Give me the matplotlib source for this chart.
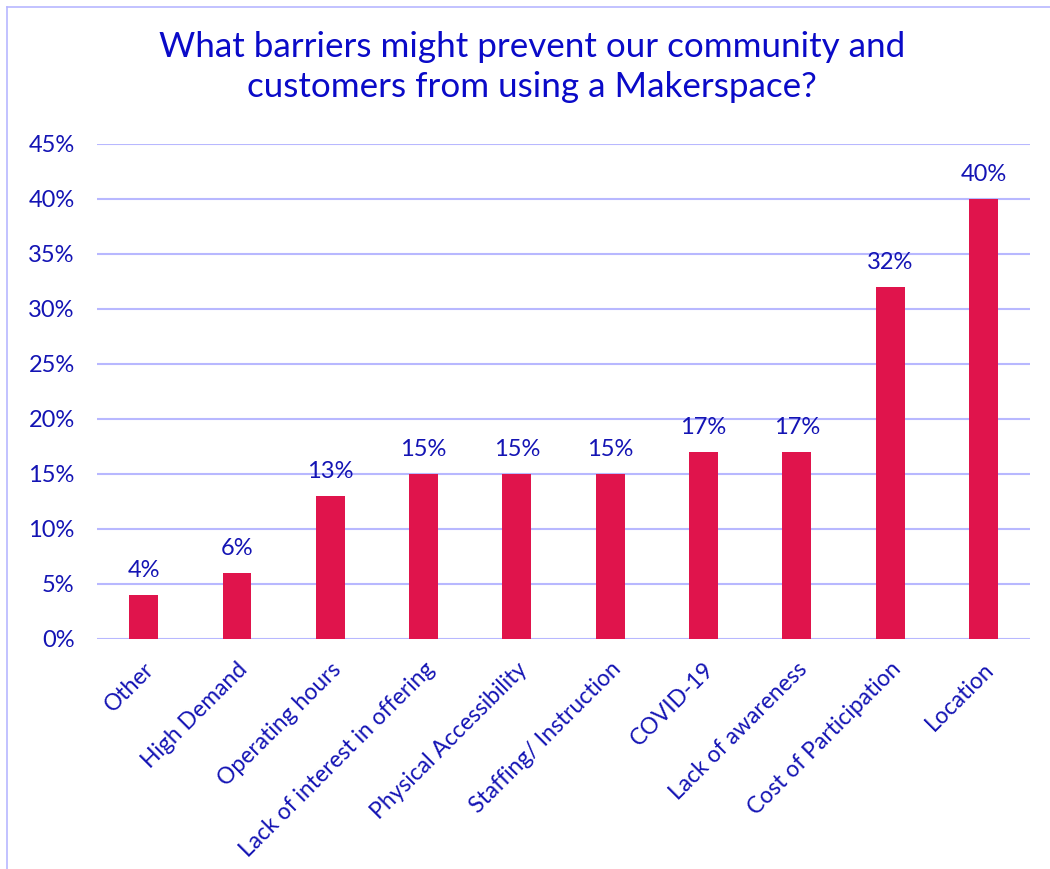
import matplotlib
matplotlib.use("Agg")
import matplotlib.pyplot as plt
from matplotlib.lines import Line2D

categories = ["Other", "High Demand", "Operating hours", "Lack of interest in offering",
              "Physical Accessibility", "Staffing/ Instruction", "COVID-19",
              "Lack of awareness", "Cost of Participation", "Location"]
values = [4, 6, 13, 15, 15, 15, 17, 17, 32, 40]
yticks = [0, 5, 10, 15, 20, 25, 30, 35, 40, 45]
title = "What barriers might prevent our community and\ncustomers from using a Makerspace?"

TEXT = "#1414b4"
BAR = "#e0144c"
GRID = "#b8b8ff"

plt.rcParams["font.family"] = ["Lato", "DejaVu Sans"]

fig = plt.figure(figsize=(10.5, 8.69), dpi=100)
ax = fig.add_axes([0.0924, 0.2647, 0.8886, 0.5696])

x = range(len(categories))
ax.bar(x, values, width=0.31, color=BAR, zorder=3)
for xi, v in zip(x, values):
    ax.text(xi, v + 1.3, f"{v}%", ha="center", va="bottom", fontsize=17, color=TEXT)

ax.set_xlim(-0.5, len(categories) - 0.5)
ax.set_ylim(0, 45)
ax.set_yticks(yticks)
ax.set_yticklabels([f"{t}%" for t in yticks])
ax.yaxis.grid(True, color=GRID, linewidth=1.5, zorder=0)
ax.tick_params(axis="y", length=0, pad=16, labelsize=17, labelcolor=TEXT)
ax.set_xticks(list(x))
ax.set_xticklabels(categories, rotation=45, ha="right", rotation_mode="anchor")
ax.tick_params(axis="x", length=0, pad=14, labelsize=16.5, labelcolor=TEXT)
for s in ax.spines.values():
    s.set_visible(False)

fig.text(0.507, 0.964, title, ha="center", va="top", fontsize=25.2, color="#0a0ac8",
         linespacing=1.28)

# thin frame along the top and left edges
fig.add_artist(Line2D([0.0067, 1.0], [0.9925, 0.9925], color=GRID, linewidth=1.2,
                      transform=fig.transFigure))
fig.add_artist(Line2D([0.0067, 0.0067], [0.0, 0.9925], color=GRID, linewidth=1.2,
                      transform=fig.transFigure))

fig.savefig("out.png", dpi=100, facecolor="white")
